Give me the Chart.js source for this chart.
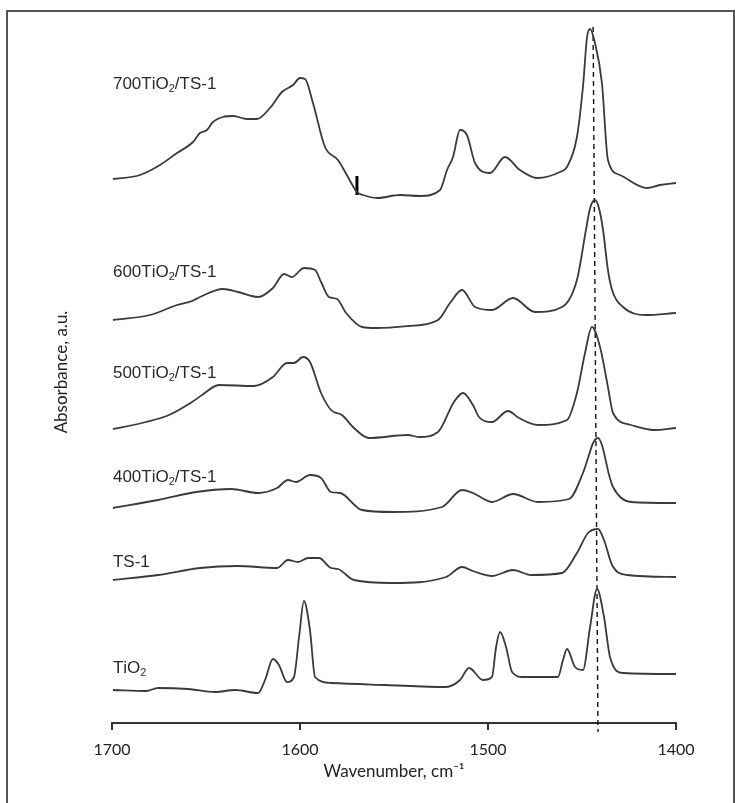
<!DOCTYPE html>
<html>
<head>
<meta charset="utf-8">
<script src="https://cdn.jsdelivr.net/npm/chart.js@4.4.1/dist/chart.umd.min.js"></script>
<style>
  html, body { margin: 0; padding: 0; background: #fff; }
  #wrap { position: relative; width: 735px; height: 803px; overflow: hidden; }
  #wrap canvas { position: absolute; left: 0; top: 0; }
  #frame { position: absolute; left: 6px; top: 10px; width: 725px; height: 800px;
           border: 2px solid #555; border-bottom: none; pointer-events: none; }
</style>
</head>
<body>
<div id="wrap">
  <canvas id="chart" width="735" height="803"></canvas>
  <div id="frame"></div>
</div>
<script>
// pyridine FTIR spectra, stacked (offsets already included), x = wavenumber cm-1
const seriesNames = ['700TiO₂/TS-1', '600TiO₂/TS-1', '500TiO₂/TS-1', '400TiO₂/TS-1', 'TS-1', 'TiO₂'];

const wn700 = [1699.5,1685.1,1674.5,1665.4,1656.9,1653.2,1649.5,1646.3,1641.0,1635.6,1628.2,1622.9,1616.0,1609.6,1603.7,1600.0,1597.3,1593.1,1586.7,1579.8,1574.5,1569.7,1566.5,1559.0,1546.8,1536.2,1525.5,1521.8,1518.6,1514.9,1511.2,1506.9,1498.9,1491.0,1483.0,1473.9,1461.7,1458.0,1452.7,1449.5,1447.3,1445.7,1443.1,1439.4,1436.2,1429.8,1415.4,1408.5,1400];
const ab700 = [5.44,5.48,5.58,5.70,5.81,5.90,5.93,6.01,6.06,6.07,6.04,6.04,6.15,6.31,6.38,6.45,6.44,6.20,5.76,5.63,5.46,5.31,5.28,5.25,5.28,5.27,5.33,5.53,5.66,5.93,5.88,5.60,5.50,5.66,5.53,5.45,5.51,5.56,5.86,6.36,6.86,6.94,6.80,6.40,5.63,5.48,5.35,5.38,5.40];

const wn600 = [1699.5,1679.8,1665.4,1657.4,1653.2,1641.0,1633.0,1622.3,1614.4,1608.5,1604.3,1597.9,1592.0,1588.8,1584.6,1580.3,1575.5,1567.0,1559.0,1542.6,1526.6,1520.2,1513.8,1506.9,1497.9,1486.7,1475.0,1460.6,1452.7,1447.9,1445.7,1443.1,1441.0,1438.8,1436.2,1434.0,1428.2,1415.9,1400];
const ab600 = [4.03,4.08,4.18,4.22,4.26,4.34,4.31,4.26,4.35,4.49,4.46,4.55,4.53,4.41,4.26,4.24,4.10,3.96,3.95,3.97,4.03,4.20,4.33,4.16,4.13,4.25,4.11,4.16,4.43,4.93,5.15,5.23,5.15,4.93,4.53,4.33,4.16,4.08,4.10];

const wn500 = [1699.5,1681.9,1669.7,1657.4,1652.1,1643.1,1624.5,1614.4,1606.9,1603.2,1598.4,1594.7,1588.8,1583.5,1577.7,1571.3,1563.3,1542.6,1536.7,1526.6,1518.1,1513.3,1508.0,1504.8,1497.9,1489.4,1483.5,1473.4,1458.0,1452.7,1448.4,1444.7,1440.4,1436.2,1433.5,1423.9,1411.7,1400];
const ab500 = [2.94,3.01,3.08,3.21,3.28,3.38,3.37,3.46,3.60,3.60,3.66,3.61,3.30,3.13,3.08,2.95,2.85,2.88,2.86,2.91,3.21,3.30,3.18,3.06,3.01,3.12,3.05,2.98,3.03,3.30,3.70,3.96,3.76,3.36,3.10,2.98,2.93,2.95];

const wn400 = [1699.5,1675.5,1655.3,1636.7,1622.3,1612.2,1606.4,1602.1,1594.7,1588.8,1583.5,1578.7,1567.0,1551.1,1524.5,1513.8,1508.0,1497.9,1486.7,1473.4,1456.9,1449.5,1446.3,1444.1,1441.5,1439.4,1437.2,1435.6,1433.5,1423.9,1400];
const ab400 = [2.15,2.23,2.31,2.34,2.30,2.35,2.43,2.41,2.48,2.45,2.31,2.30,2.13,2.11,2.16,2.33,2.30,2.21,2.29,2.21,2.24,2.50,2.68,2.80,2.85,2.78,2.61,2.48,2.36,2.21,2.20];

const wnTS1 = [1699.5,1675.5,1653.2,1633.5,1612.2,1606.4,1601.1,1595.7,1589.9,1583.5,1579.8,1571.3,1551.1,1522.3,1513.8,1508.0,1497.9,1486.7,1477.1,1460.6,1452.7,1446.8,1441.5,1438.3,1434.0,1426.1,1400];
const abTS1 = [1.43,1.48,1.55,1.57,1.55,1.63,1.61,1.65,1.65,1.55,1.54,1.43,1.40,1.46,1.56,1.52,1.47,1.53,1.48,1.50,1.70,1.90,1.94,1.83,1.58,1.48,1.46];

const wnTiO2 = [1699.5,1681.9,1675.5,1659.6,1645.2,1634.6,1622.3,1618.6,1614.4,1611.2,1606.9,1603.2,1600.5,1597.9,1594.7,1592.0,1583.5,1554.8,1522.3,1514.9,1510.1,1502.7,1497.9,1495.7,1493.6,1490.4,1487.2,1481.4,1462.8,1460.1,1458.0,1453.7,1449.5,1445.7,1442.0,1438.3,1435.1,1428.2,1400];
const abTiO2 = [0.33,0.32,0.35,0.34,0.31,0.33,0.30,0.43,0.64,0.58,0.41,0.46,0.86,1.22,0.93,0.46,0.40,0.38,0.36,0.43,0.55,0.43,0.46,0.76,0.91,0.76,0.51,0.46,0.46,0.63,0.74,0.56,0.53,0.96,1.34,1.06,0.66,0.50,0.49];

// dashed reference line (Lewis band) and the small marker on the 700 trace
const refLineWn = [1444.1, 1441.5];
const refLineAb = [6.96, -0.09];
const markWn = [1569.7, 1569.7];
const markAb = [5.47, 5.28];

const xTicks = [1700, 1600, 1500, 1400];
// where each trace name sits (wavenumber, absorbance)
const nameWn = [1699.5, 1699.5, 1699.5, 1699.5, 1699.5, 1699.5];
const nameAb = [6.39, 4.51, 3.50, 2.46, 1.61, 0.55];

const pts = (xs, ys) => xs.map((x, i) => ({ x, y: ys[i] }));
const ink = '#3a3a3a';
const traces = [[wn700, ab700], [wn600, ab600], [wn500, ab500], [wn400, ab400], [wnTS1, abTS1], [wnTiO2, abTiO2]];

const datasets = traces.map(([w, a], i) => ({
  label: seriesNames[i],
  data: pts(w, a),
  borderColor: ink,
  borderWidth: 1.8,
  pointRadius: 0,
  cubicInterpolationMode: 'monotone',
  fill: false,
}));
datasets.push({
  label: 'ref', data: pts(refLineWn, refLineAb), borderColor: '#111', borderWidth: 1.4,
  borderDash: [5, 4], pointRadius: 0, clip: false,
});
datasets.push({
  label: 'mark', data: pts(markWn, markAb), borderColor: '#000', borderWidth: 3, pointRadius: 0,
});

// trace names, with the subscript 2 drawn small and lowered
const namePlugin = {
  id: 'traceNames',
  afterDatasetsDraw(chart) {
    const { ctx, scales: { x, y } } = chart;
    ctx.save();
    ctx.fillStyle = '#2a2a2a';
    ctx.textBaseline = 'middle';
    seriesNames.forEach((name, i) => {
      let px = x.getPixelForValue(nameWn[i]);
      const py = y.getPixelForValue(nameAb[i]);
      for (const ch of name) {
        if (ch === '₂') {
          ctx.font = '11px "Liberation Sans", Arial, sans-serif';
          ctx.fillText('2', px, py + 5);
          px += ctx.measureText('2').width;
        } else {
          ctx.font = '17px "Liberation Sans", Arial, sans-serif';
          ctx.fillText(ch, px, py);
          px += ctx.measureText(ch).width;
        }
      }
    });
    ctx.restore();
  }
};

const axisFont = { family: 'Lato, "DejaVu Sans", sans-serif', size: 16 };

new Chart(document.getElementById('chart'), {
  type: 'line',
  data: { datasets },
  plugins: [namePlugin],
  options: {
    responsive: false,
    animation: false,
    devicePixelRatio: 1,
    layout: { padding: { left: 40, right: 59, top: 21, bottom: 20.8 } },
    plugins: { legend: { display: false }, tooltip: { enabled: false } },
    scales: {
      x: {
        type: 'linear', reverse: true, min: 1400, max: 1700,
        afterBuildTicks: s => { s.ticks = xTicks.map(v => ({ value: v })); },
        ticks: { color: '#222', font: axisFont, padding: 10, maxRotation: 0, callback: v => String(v) },
        grid: { drawOnChartArea: false, drawTicks: true, tickLength: 7, color: '#333', lineWidth: 2 },
        border: { display: true, color: '#333', width: 2 },
        title: { display: true, text: 'Wavenumber, cm⁻¹', color: '#222',
                 font: { family: 'Lato, "DejaVu Sans", sans-serif', size: 17 }, padding: { top: -7.4, bottom: 0 } },
      },
      y: {
        min: 0, max: 7.02,
        ticks: { display: false },
        grid: { display: false },
        border: { display: false },
        title: { display: true, text: 'Absorbance, a.u.', color: '#222',
                 font: { family: 'Lato, "DejaVu Sans", sans-serif', size: 17 }, padding: { top: 11.8, bottom: 31.8 } },
      },
    },
  },
});
</script>
</body>
</html>
